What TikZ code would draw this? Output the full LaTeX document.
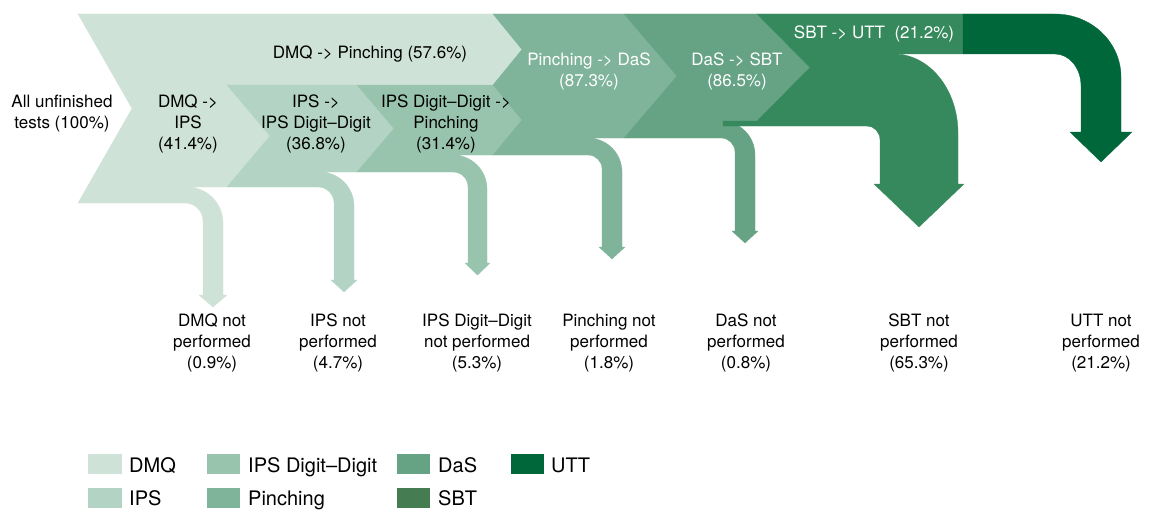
\documentclass[tikz,border=0pt]{standalone}
\usepackage{fontspec}
\setmainfont{TeX Gyre Heros}
\definecolor{cDMQ}{HTML}{CEE2D7}
\definecolor{cIPS}{HTML}{B3D3C4}
\definecolor{cIDD}{HTML}{98C4AE}
\definecolor{cPin}{HTML}{80B49A}
\definecolor{cDaS}{HTML}{65A384}
\definecolor{cSBT}{HTML}{35895C}
\definecolor{cSBTleg}{HTML}{457C52}
\definecolor{cUTT}{HTML}{00673A}
\begin{document}
\begin{tikzpicture}[x=1pt,y=-1pt,
  every node/.style={inner sep=0pt},
  lab/.style={font=\fontsize{17}{21}\selectfont, align=center},
  leg/.style={font=\fontsize{20}{24}\selectfont, anchor=base west},
  region/.style={fill=#1, draw=#1, line width=0.3pt}]
\useasboundingbox (0,0) rectangle (1153,511);
\clip (0,0) rectangle (1153,511);
% DMQ
\path[region=cDMQ] (78,14) -- (493,14) -- (522,49.5) -- (493,85) -- (227,85) -- (270,136) -- (227,187) -- (187,187) .. controls (206.9,187) and (223,203.1) .. (223,223) -- (223,295) -- (227,295) -- (213,307) -- (199,295) -- (203,295) -- (203,221) .. controls (203,211.1) and (194.9,203) .. (185,203) -- (78,203) -- (132,108.5) -- cycle;
% IPS
\path[region=cIPS] (227,85) -- (357,85) -- (394,128.5) -- (357,172) -- (320,172) .. controls (338.8,172) and (354,187.2) .. (354,206) -- (354,280) -- (357,280) -- (344,292) -- (331,280) -- (334,280) -- (334,203) .. controls (334,194.2) and (326.8,187) .. (318,187) -- (227,187) -- (270,136) -- cycle;
% IPS Digit-Digit
\path[region=cIDD] (357,85) -- (493,85) -- (522,120) -- (493,155) -- (453,155) .. controls (471.8,155) and (487,170.2) .. (487,189) -- (487,263) -- (490,263) -- (477.5,275) -- (465,263) -- (468,263) -- (468,187) .. controls (468,178.7) and (461.3,172) .. (453,172) -- (357,172) -- (394,128.5) -- cycle;
% Pinching
\path[region=cPin] (493,14) -- (624,14) -- (677,76) -- (624,138) -- (588,138) .. controls (606.8,138) and (622,153.2) .. (622,172) -- (622,247) -- (625,247) -- (612,259) -- (599,247) -- (602,247) -- (602,169) .. controls (602,161.3) and (595.7,155) .. (588,155) -- (493,155) -- (522,120) -- (493,85) -- (522,49.5) -- cycle;
% DaS
\path[region=cDaS] (624,14) -- (757,14) -- (810,67.5) -- (757,121) -- (721,121) .. controls (739.8,121) and (755,136.2) .. (755,155) -- (755,231) -- (758,231) -- (745,243) -- (732,231) -- (735,231) -- (735,152) .. controls (735,144.3) and (728.7,138) .. (721,138) -- (624,138) -- (677,76) -- cycle;
% SBT
\path[region=cSBT] (757,14) -- (963,14) -- (963,54) -- (894,54) .. controls (929.3,54) and (958,89.4) .. (958,133) -- (958,184) -- (964,184) -- (919,227) -- (874,184) -- (880,184) -- (880,140) .. controls (880,132.3) and (874.2,126) .. (867,126) -- (723,126) -- (723,121) -- (757,121) -- (810,67.5) -- cycle;
% UTT
\path[region=cUTT] (963,14) -- (1055,14) .. controls (1091.4,14) and (1121,42.2) .. (1121,77) -- (1121,132) -- (1132,132) -- (1101,162) -- (1070,132) -- (1081,132) -- (1081,86) .. controls (1081,68.3) and (1069.4,54) .. (1055,54) -- (963,54) -- cycle;
% flow labels
\node[lab] (all) at (62,114) {All unfinished\\tests (100\%)};
\node[lab] (f1) at (188,124) {DMQ ->\\IPS\\(41.4\%)};
\node[lab] (f2) at (316,124) {IPS ->\\IPS Digit–Digit\\(36.8\%)};
\node[lab] (f3) at (446,124) {IPS Digit–Digit ->\\Pinching\\(31.4\%)};
\node[lab,anchor=base] (f4) at (370,59) {DMQ -> Pinching (57.6\%)};
\node[lab,white] (f5) at (589,71) {Pinching -> DaS\\(87.3\%)};
\node[lab,white] (f6) at (737,71) {DaS -> SBT\\(86.5\%)};
\node[lab,white,anchor=base] (f7) at (874,39) {SBT -> UTT\ \ (21.2\%)};
% outcome labels
\node[lab] (n1) at (212,343) {DMQ not\\performed\\(0.9\%)};
\node[lab] (n2) at (338,343) {IPS not\\performed\\(4.7\%)};
\node[lab] (n3) at (477,343) {IPS Digit–Digit\\not performed\\(5.3\%)};
\node[lab] (n4) at (609,343) {Pinching not\\performed\\(1.8\%)};
\node[lab] (n5) at (746,343) {DaS not\\performed\\(0.8\%)};
\node[lab] (n6) at (919,343) {SBT not\\performed\\(65.3\%)};
\node[lab] (n7) at (1101,343) {UTT not\\performed\\(21.2\%)};
% legend
\fill[cDMQ] (88,454) rectangle (122,474);
\node[leg] (l1) at (129,472) {DMQ};
\fill[cIDD] (207,454) rectangle (240,474);
\node[leg] (l3) at (248,472) {IPS Digit–Digit};
\fill[cDaS] (397,454) rectangle (430,474);
\node[leg] (l5) at (438,472) {DaS};
\fill[cUTT] (511,454) rectangle (544,474);
\node[leg] (l7) at (551,472) {UTT};
\fill[cIPS] (88,488) rectangle (122,508);
\node[leg] (l2) at (129,505.5) {IPS};
\fill[cPin] (207,488) rectangle (240,508);
\node[leg] (l4) at (248,505.5) {Pinching};
\fill[cSBTleg] (397,488) rectangle (430,508);
\node[leg] (l6) at (438,505.5) {SBT};
\end{tikzpicture}
\end{document}
